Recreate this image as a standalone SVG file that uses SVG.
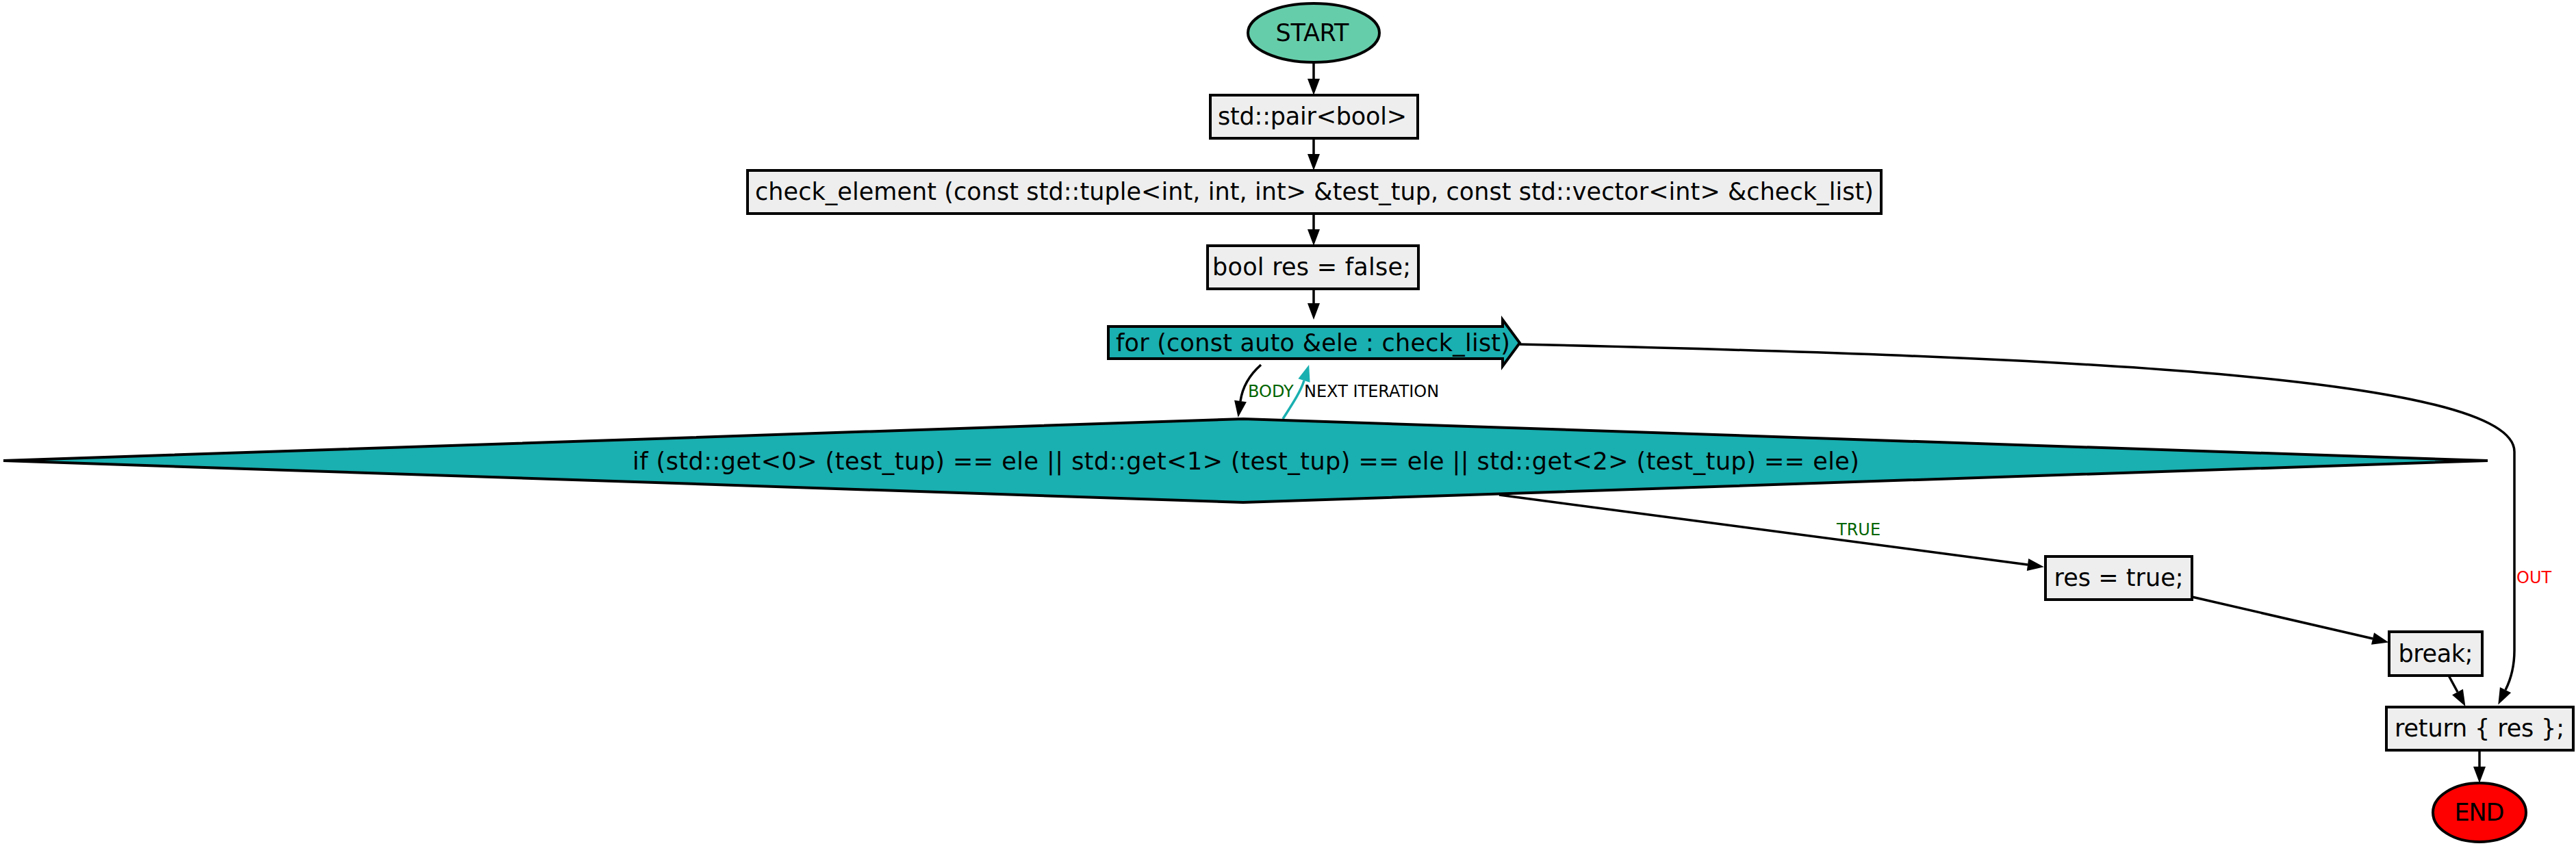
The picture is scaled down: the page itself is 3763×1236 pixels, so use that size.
<svg xmlns="http://www.w3.org/2000/svg" width="3763" height="1236" viewBox="0 0 3763 1236">
<style>
text{font-family:"DejaVu Sans","Noto Sans",sans-serif;}
.nt{font-size:35px;fill:#000;text-anchor:middle;}
.lt{font-size:24px;}
.box{fill:#eeeeee;stroke:#000;stroke-width:4;}
.teal{fill:#1aafb0;stroke:#000;stroke-width:4;}
.e{fill:none;stroke:#000;stroke-width:3.5;}
.et{fill:none;stroke:#1aafb0;stroke-width:3.5;}
</style>
<defs>
<marker id="ah" markerWidth="24" markerHeight="18" refX="0" refY="9" orient="auto" markerUnits="userSpaceOnUse" overflow="visible"><path d="M0,0 L24,9 L0,18 z" fill="#000"/></marker>
<marker id="aht" markerWidth="24" markerHeight="18" refX="0" refY="9" orient="auto" markerUnits="userSpaceOnUse" overflow="visible"><path d="M0,0 L24,9 L0,18 z" fill="#1aafb0"/></marker>
</defs>
<rect width="3763" height="1236" fill="#fff"/>
<g id="connectors">
<path class="e" d="M1919,91 L1919,115" marker-end="url(#ah)"/>
<path class="e" d="M1919,202 L1919,225" marker-end="url(#ah)"/>
<path class="e" d="M1919,312 L1919,335" marker-end="url(#ah)"/>
<path class="e" d="M1919,422 L1919,443" marker-end="url(#ah)"/>
<path class="e" d="M1842,533 C1825,548 1815,565 1812,586" marker-end="url(#ah)"/>
<path class="et" d="M1874,612 C1888,590 1900,572 1905,556" marker-end="url(#aht)"/>
<path class="e" d="M2220,503 C2950,520 3673,545 3673,660 L3673,950 C3673,975 3668,992 3660,1008" marker-end="url(#ah)"/>
<path class="e" d="M2190,723 L2962,825" marker-end="url(#ah)"/>
<path class="e" d="M3202,872 L3466,933" marker-end="url(#ah)"/>
<path class="e" d="M3577,987 L3590,1011" marker-end="url(#ah)"/>
<path class="e" d="M3622,1096 L3622,1120" marker-end="url(#ah)"/>
<text class="lt" x="1823" y="580" fill="#006400">BODY</text>
<text class="lt" x="1905" y="580" fill="#000">NEXT ITERATION</text>
<text class="lt" x="2683" y="782" fill="#006400">TRUE</text>
<text class="lt" x="3676" y="852" fill="#ff0000">OUT</text>
</g>
<g id="start">
<ellipse cx="1919" cy="48" rx="96" ry="43" fill="#66cdaa" stroke="#000" stroke-width="4"/>
<text class="nt" x="1917" y="60" textLength="107">START</text>
</g>
<g id="pair">
<rect class="box" x="1768" y="139" width="303" height="63"/>
<text class="nt" x="1917" y="182" textLength="276">std::pair&lt;bool&gt;</text>
</g>
<g id="check_element">
<rect class="box" x="1092" y="249" width="1656" height="63"/>
<text class="nt" x="1920" y="292" textLength="1634">check_element (const std::tuple&lt;int, int, int&gt; &amp;test_tup, const std::vector&lt;int&gt; &amp;check_list)</text>
</g>
<g id="bool_res">
<rect class="box" x="1764" y="359" width="308" height="63"/>
<text class="nt" x="1916" y="402" textLength="290">bool res = false;</text>
</g>
<g id="for_loop">
<polygon class="teal" points="1619,477 2195,477 2195,467 2220,501 2195,535 2195,524 1619,524"/>
<text class="nt" x="1918" y="513" textLength="576">for (const auto &amp;ele : check_list)</text>
</g>
<g id="if_cond">
<polygon class="teal" points="5,673 1816,612 3634,673 1816,734"/>
<text class="nt" x="1820" y="686" textLength="1792">if (std::get&lt;0&gt; (test_tup) == ele || std::get&lt;1&gt; (test_tup) == ele || std::get&lt;2&gt; (test_tup) == ele)</text>
</g>
<g id="res_true">
<rect class="box" x="2988" y="813" width="214" height="63"/>
<text class="nt" x="3095" y="856" textLength="189">res = true;</text>
</g>
<g id="break">
<rect class="box" x="3490" y="923" width="136" height="64"/>
<text class="nt" x="3558" y="967" textLength="109">break;</text>
</g>
<g id="return">
<rect class="box" x="3486" y="1033" width="273" height="63"/>
<text class="nt" x="3622" y="1076" textLength="248">return { res };</text>
</g>
<g id="end">
<ellipse cx="3622" cy="1187" rx="68" ry="43" fill="#ff0000" stroke="#000" stroke-width="4"/>
<text class="nt" x="3622" y="1199" textLength="73">END</text>
</g>
</svg>
